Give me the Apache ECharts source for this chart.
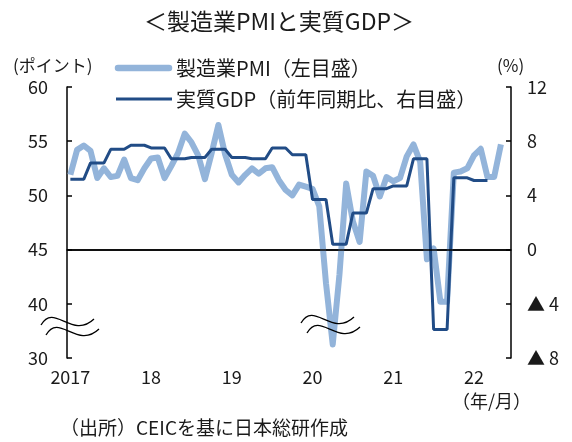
<!DOCTYPE html>
<html>
<head>
<meta charset="utf-8">
<script src="https://cdn.jsdelivr.net/npm/echarts@6/dist/echarts.min.js"></script>
<style>
  html, body { margin: 0; padding: 0; background: #fff; }
  #chart { width: 572px; height: 442px; }
</style>
</head>
<body>
<div id="chart"></div>
<script>
// 製造業PMI (monthly, 2017/1 - 2022/5)
const pmi = [
  51.9, 54.2, 54.6, 54.1, 51.6, 52.5, 51.7, 51.8, 53.3, 51.6, 51.4, 52.5,
  53.4, 53.5, 51.6, 52.7, 53.9, 55.7, 54.9, 53.7, 51.5, 53.9, 56.5, 53.8,
  51.9, 51.2, 51.9, 52.5, 52.0, 52.5, 52.6, 51.4, 50.5, 50.0, 51.0, 50.8,
  50.6, 49.0, 41.9, 32.5, 42.7, 51.1, 47.6, 45.7, 52.2, 51.8, 49.9, 51.7,
  51.3, 51.6, 53.6, 54.7, 53.1, 44.1, 45.1, 40.2, 40.2, 52.1, 52.2, 52.5,
  53.7, 54.3, 51.7, 51.7, 54.7
]
// 実質GDP 前年同期比 (quarterly, 2017Q1 - 2022Q1)
const gdpQuarterly = [
  5.2, 6.4, 7.4, 7.7,
  7.5, 6.7, 6.8, 7.4,
  6.8, 6.7, 7.5, 7.0,
  3.7, 0.4, 2.7, 4.5,
  4.7, 6.7, -5.9, 5.3,
  5.1
]
const yearLabels = ['2017', '18', '19', '20', '21', '22']
const leftTicks = { min: 35, max: 60, step: 5 } // 35 is shown as 30 (broken axis)
const rightTicks = { min: -8, max: 12, step: 4 }

const months = []
for (let y = 2017; y <= 2022; y++) {
  for (let m = 1; m <= 12; m++) {
    if (y === 2022 && m > 6) break
    months.push(y + '/' + m)
  }
}

// below 40 the left axis is squeezed: 30-40 takes the room of 5 points
const toBroken = (v) => (v < 40 ? 40 - (40 - v) / 2 : v)
const gdpMonthly = gdpQuarterly.flatMap((v) => [v, v, v])

const font = 'Noto Sans CJK JP'
const ink = '#1a1a1a'
const pmiColor = '#93B4DA'
const gdpColor = '#214C86'

const wave = (x, y) => ({
  type: 'bezierCurve',
  z: 100,
  shape: { x1: x, y1: y, cpx1: x + 13, cpy1: y - 23, cpx2: x + 31, cpy2: y + 15, x2: x + 53, y2: y - 6 },
  style: { stroke: '#000', lineWidth: 1.3, fill: null },
})

const label = (x, y, text, size, align) => ({
  type: 'text',
  x: x,
  y: y,
  z: 100,
  style: {
    text: text,
    font: size + 'px "' + font + '"',
    fill: ink,
    align: align || 'left',
    verticalAlign: 'middle',
  },
})

const chart = echarts.init(document.getElementById('chart'))

chart.setOption({
  animation: false,
  textStyle: { fontFamily: font, color: ink },
  grid: { left: 67, right: 61, top: 87, bottom: 84 },
  xAxis: {
    type: 'category',
    data: months,
    boundaryGap: true,
    axisLine: { lineStyle: { color: '#000', width: 1.5 } },
    axisTick: { interval: 11, length: 5, lineStyle: { color: '#000', width: 1.5 } },
    axisLabel: {
      interval: 11,
      margin: 10,
      fontSize: 18,
      color: ink,
      fontFamily: font,
      formatter: (v, i) => yearLabels[i / 12],
    },
    splitLine: { show: false },
  },
  yAxis: [
    {
      type: 'value',
      min: leftTicks.min,
      max: leftTicks.max,
      interval: leftTicks.step,
      axisLine: { show: true, lineStyle: { color: '#000', width: 1.5 } },
      axisTick: { show: true, inside: true, length: 5, lineStyle: { color: '#000', width: 1.5 } },
      axisLabel: {
        margin: 19,
        fontSize: 18,
        color: ink,
        fontFamily: font,
        formatter: (v) => (v === 35 ? '30' : String(v)),
      },
      splitLine: { show: false },
    },
    {
      type: 'value',
      min: rightTicks.min,
      max: rightTicks.max,
      interval: rightTicks.step,
      axisLine: { show: true, lineStyle: { color: '#000', width: 1.5 } },
      axisTick: { show: true, inside: true, length: 5, lineStyle: { color: '#000', width: 1.5 } },
      axisLabel: {
        margin: 16,
        fontSize: 18,
        color: ink,
        fontFamily: font,
        formatter: (v) => (v < 0 ? '▲ ' + -v : String(v)),
      },
      splitLine: { show: false },
    },
  ],
  series: [
    {
      name: '製造業PMI（左目盛）',
      type: 'line',
      yAxisIndex: 0,
      data: pmi.map(toBroken),
      symbol: 'none',
      lineStyle: { color: pmiColor, width: 6, join: 'round' },
      itemStyle: { color: pmiColor },
      z: 2,
    },
    {
      name: '実質GDP（前年同期比、右目盛）',
      type: 'line',
      yAxisIndex: 1,
      data: gdpMonthly,
      symbol: 'none',
      lineStyle: { color: gdpColor, width: 3 },
      itemStyle: { color: gdpColor },
      z: 3,
      markLine: {
        silent: true,
        symbol: 'none',
        label: { show: false },
        lineStyle: { color: '#000', width: 1.5, type: 'solid' },
        data: [{ yAxis: 0 }],
      },
    },
  ],
  graphic: [
    label(279, 21, '＜製造業PMIと実質GDP＞', 23, 'center'),
    // legend
    { type: 'line', z: 100, shape: { x1: 118, y1: 68, x2: 169, y2: 68 }, style: { stroke: pmiColor, lineWidth: 6.5, lineCap: 'round' } },
    label(176, 68, '製造業PMI（左目盛）', 20),
    { type: 'line', z: 100, shape: { x1: 116, y1: 99, x2: 172, y2: 99 }, style: { stroke: gdpColor, lineWidth: 3 } },
    label(176, 99, '実質GDP（前年同期比、右目盛）', 20),
    // axis units and notes
    label(13, 66, '(ポイント)', 17),
    label(497, 66, '(%)', 17),
    label(452, 401, '（年/月）', 18),
    label(60, 428, '（出所）CEICを基に日本総研作成', 19),
    wave(41, 325),
    wave(46, 335),
    wave(301, 323),
    wave(307, 333),
  ],
})
</script>
</body>
</html>
